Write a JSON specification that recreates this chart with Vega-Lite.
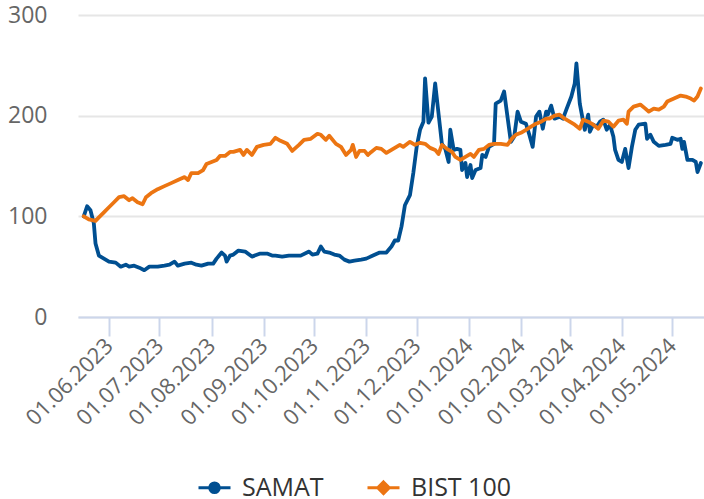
{
"$schema": "https://vega.github.io/schema/vega-lite/v6.json",
"width": 626,
"height": 302,
"autosize": {"type": "none"},
"padding": {"left": 78, "top": 15, "right": 0, "bottom": 182},
"background": "white",
"config": {"view": {"stroke": null}, "font": "Open Sans"},
"data": {"values": [
{"d":"2023-05-17","s":"SAMAT","v":100},{"d":"2023-05-19","s":"SAMAT","v":110},{"d":"2023-05-21","s":"SAMAT","v":106},{"d":"2023-05-23","s":"SAMAT","v":93},{"d":"2023-05-24","s":"SAMAT","v":73},{"d":"2023-05-26","s":"SAMAT","v":61},{"d":"2023-05-29","s":"SAMAT","v":58},{"d":"2023-06-01","s":"SAMAT","v":55},{"d":"2023-06-05","s":"SAMAT","v":54},{"d":"2023-06-08","s":"SAMAT","v":50},{"d":"2023-06-11","s":"SAMAT","v":52},{"d":"2023-06-13","s":"SAMAT","v":50},{"d":"2023-06-16","s":"SAMAT","v":51},{"d":"2023-06-19","s":"SAMAT","v":49},{"d":"2023-06-22","s":"SAMAT","v":46.5},{"d":"2023-06-25","s":"SAMAT","v":50},{"d":"2023-06-30","s":"SAMAT","v":50},{"d":"2023-07-04","s":"SAMAT","v":51},{"d":"2023-07-07","s":"SAMAT","v":52},{"d":"2023-07-10","s":"SAMAT","v":55},{"d":"2023-07-12","s":"SAMAT","v":51},{"d":"2023-07-16","s":"SAMAT","v":53},{"d":"2023-07-20","s":"SAMAT","v":54},{"d":"2023-07-23","s":"SAMAT","v":52},{"d":"2023-07-26","s":"SAMAT","v":51},{"d":"2023-07-30","s":"SAMAT","v":53},{"d":"2023-08-02","s":"SAMAT","v":53},{"d":"2023-08-04","s":"SAMAT","v":58},{"d":"2023-08-07","s":"SAMAT","v":64},{"d":"2023-08-09","s":"SAMAT","v":61},{"d":"2023-08-10","s":"SAMAT","v":55},{"d":"2023-08-12","s":"SAMAT","v":61},{"d":"2023-08-14","s":"SAMAT","v":62},{"d":"2023-08-17","s":"SAMAT","v":66},{"d":"2023-08-21","s":"SAMAT","v":65},{"d":"2023-08-25","s":"SAMAT","v":60},{"d":"2023-08-30","s":"SAMAT","v":63},{"d":"2023-09-03","s":"SAMAT","v":63},{"d":"2023-09-06","s":"SAMAT","v":61},{"d":"2023-09-08","s":"SAMAT","v":61},{"d":"2023-09-12","s":"SAMAT","v":60},{"d":"2023-09-16","s":"SAMAT","v":61},{"d":"2023-09-23","s":"SAMAT","v":61},{"d":"2023-09-28","s":"SAMAT","v":65},{"d":"2023-09-30","s":"SAMAT","v":62},{"d":"2023-10-03","s":"SAMAT","v":63},{"d":"2023-10-05","s":"SAMAT","v":70},{"d":"2023-10-07","s":"SAMAT","v":65},{"d":"2023-10-10","s":"SAMAT","v":64},{"d":"2023-10-13","s":"SAMAT","v":62},{"d":"2023-10-16","s":"SAMAT","v":61},{"d":"2023-10-19","s":"SAMAT","v":57},{"d":"2023-10-22","s":"SAMAT","v":55},{"d":"2023-10-25","s":"SAMAT","v":56},{"d":"2023-10-29","s":"SAMAT","v":57},{"d":"2023-11-01","s":"SAMAT","v":58},{"d":"2023-11-05","s":"SAMAT","v":61},{"d":"2023-11-09","s":"SAMAT","v":64},{"d":"2023-11-13","s":"SAMAT","v":64},{"d":"2023-11-16","s":"SAMAT","v":70},{"d":"2023-11-18","s":"SAMAT","v":76},{"d":"2023-11-20","s":"SAMAT","v":76},{"d":"2023-11-22","s":"SAMAT","v":90},{"d":"2023-11-24","s":"SAMAT","v":111},{"d":"2023-11-27","s":"SAMAT","v":121},{"d":"2023-11-29","s":"SAMAT","v":143},{"d":"2023-12-01","s":"SAMAT","v":169},{"d":"2023-12-03","s":"SAMAT","v":186},{"d":"2023-12-05","s":"SAMAT","v":194},{"d":"2023-12-06","s":"SAMAT","v":237},{"d":"2023-12-08","s":"SAMAT","v":193},{"d":"2023-12-10","s":"SAMAT","v":199},{"d":"2023-12-12","s":"SAMAT","v":232},{"d":"2023-12-14","s":"SAMAT","v":202},{"d":"2023-12-16","s":"SAMAT","v":172},{"d":"2023-12-18","s":"SAMAT","v":167},{"d":"2023-12-20","s":"SAMAT","v":154},{"d":"2023-12-21","s":"SAMAT","v":186},{"d":"2023-12-23","s":"SAMAT","v":166},{"d":"2023-12-25","s":"SAMAT","v":167},{"d":"2023-12-27","s":"SAMAT","v":166},{"d":"2023-12-28","s":"SAMAT","v":146},{"d":"2023-12-30","s":"SAMAT","v":153},{"d":"2023-12-31","s":"SAMAT","v":139},{"d":"2024-01-02","s":"SAMAT","v":151},{"d":"2024-01-03","s":"SAMAT","v":138},{"d":"2024-01-05","s":"SAMAT","v":146},{"d":"2024-01-08","s":"SAMAT","v":148},{"d":"2024-01-09","s":"SAMAT","v":161},{"d":"2024-01-11","s":"SAMAT","v":159},{"d":"2024-01-13","s":"SAMAT","v":169},{"d":"2024-01-16","s":"SAMAT","v":172},{"d":"2024-01-17","s":"SAMAT","v":212},{"d":"2024-01-20","s":"SAMAT","v":215},{"d":"2024-01-22","s":"SAMAT","v":224},{"d":"2024-01-24","s":"SAMAT","v":199},{"d":"2024-01-26","s":"SAMAT","v":174},{"d":"2024-01-28","s":"SAMAT","v":179},{"d":"2024-01-30","s":"SAMAT","v":204},{"d":"2024-02-01","s":"SAMAT","v":194},{"d":"2024-02-04","s":"SAMAT","v":192},{"d":"2024-02-06","s":"SAMAT","v":181},{"d":"2024-02-08","s":"SAMAT","v":169},{"d":"2024-02-10","s":"SAMAT","v":199},{"d":"2024-02-12","s":"SAMAT","v":204},{"d":"2024-02-14","s":"SAMAT","v":187},{"d":"2024-02-16","s":"SAMAT","v":204},{"d":"2024-02-17","s":"SAMAT","v":201},{"d":"2024-02-19","s":"SAMAT","v":210},{"d":"2024-02-21","s":"SAMAT","v":197},{"d":"2024-02-24","s":"SAMAT","v":199},{"d":"2024-02-26","s":"SAMAT","v":197},{"d":"2024-02-28","s":"SAMAT","v":206},{"d":"2024-03-02","s":"SAMAT","v":219},{"d":"2024-03-04","s":"SAMAT","v":232},{"d":"2024-03-05","s":"SAMAT","v":252},{"d":"2024-03-07","s":"SAMAT","v":212},{"d":"2024-03-09","s":"SAMAT","v":194},{"d":"2024-03-10","s":"SAMAT","v":186},{"d":"2024-03-12","s":"SAMAT","v":201},{"d":"2024-03-13","s":"SAMAT","v":184},{"d":"2024-03-15","s":"SAMAT","v":191},{"d":"2024-03-17","s":"SAMAT","v":189},{"d":"2024-03-19","s":"SAMAT","v":194},{"d":"2024-03-21","s":"SAMAT","v":196},{"d":"2024-03-23","s":"SAMAT","v":186},{"d":"2024-03-25","s":"SAMAT","v":191},{"d":"2024-03-27","s":"SAMAT","v":179},{"d":"2024-03-28","s":"SAMAT","v":166},{"d":"2024-03-30","s":"SAMAT","v":156},{"d":"2024-04-01","s":"SAMAT","v":154},{"d":"2024-04-03","s":"SAMAT","v":167},{"d":"2024-04-05","s":"SAMAT","v":148},{"d":"2024-04-07","s":"SAMAT","v":169},{"d":"2024-04-09","s":"SAMAT","v":186},{"d":"2024-04-11","s":"SAMAT","v":191},{"d":"2024-04-15","s":"SAMAT","v":192},{"d":"2024-04-16","s":"SAMAT","v":177},{"d":"2024-04-18","s":"SAMAT","v":181},{"d":"2024-04-20","s":"SAMAT","v":174},{"d":"2024-04-23","s":"SAMAT","v":170},{"d":"2024-04-27","s":"SAMAT","v":171},{"d":"2024-04-30","s":"SAMAT","v":172},{"d":"2024-05-01","s":"SAMAT","v":178},{"d":"2024-05-04","s":"SAMAT","v":176},{"d":"2024-05-06","s":"SAMAT","v":177},{"d":"2024-05-07","s":"SAMAT","v":167},{"d":"2024-05-08","s":"SAMAT","v":174},{"d":"2024-05-10","s":"SAMAT","v":156},{"d":"2024-05-13","s":"SAMAT","v":156},{"d":"2024-05-15","s":"SAMAT","v":154},{"d":"2024-05-16","s":"SAMAT","v":144},{"d":"2024-05-18","s":"SAMAT","v":153},
{"d":"2023-05-17","s":"BIST 100","v":100},{"d":"2023-05-20","s":"BIST 100","v":97},{"d":"2023-05-24","s":"BIST 100","v":95.5},{"d":"2023-05-26","s":"BIST 100","v":99},{"d":"2023-05-29","s":"BIST 100","v":104},{"d":"2023-06-01","s":"BIST 100","v":109},{"d":"2023-06-04","s":"BIST 100","v":114},{"d":"2023-06-07","s":"BIST 100","v":119},{"d":"2023-06-10","s":"BIST 100","v":120},{"d":"2023-06-13","s":"BIST 100","v":116},{"d":"2023-06-15","s":"BIST 100","v":118},{"d":"2023-06-18","s":"BIST 100","v":114},{"d":"2023-06-21","s":"BIST 100","v":112},{"d":"2023-06-23","s":"BIST 100","v":119},{"d":"2023-06-26","s":"BIST 100","v":123},{"d":"2023-06-30","s":"BIST 100","v":127},{"d":"2023-07-04","s":"BIST 100","v":130},{"d":"2023-07-08","s":"BIST 100","v":133},{"d":"2023-07-12","s":"BIST 100","v":136},{"d":"2023-07-16","s":"BIST 100","v":139},{"d":"2023-07-18","s":"BIST 100","v":136},{"d":"2023-07-20","s":"BIST 100","v":143},{"d":"2023-07-24","s":"BIST 100","v":143},{"d":"2023-07-27","s":"BIST 100","v":146},{"d":"2023-07-29","s":"BIST 100","v":152},{"d":"2023-08-01","s":"BIST 100","v":154},{"d":"2023-08-04","s":"BIST 100","v":156},{"d":"2023-08-06","s":"BIST 100","v":160},{"d":"2023-08-09","s":"BIST 100","v":160},{"d":"2023-08-12","s":"BIST 100","v":164},{"d":"2023-08-14","s":"BIST 100","v":164},{"d":"2023-08-18","s":"BIST 100","v":166},{"d":"2023-08-20","s":"BIST 100","v":161},{"d":"2023-08-22","s":"BIST 100","v":166},{"d":"2023-08-25","s":"BIST 100","v":161},{"d":"2023-08-28","s":"BIST 100","v":169},{"d":"2023-09-01","s":"BIST 100","v":171},{"d":"2023-09-05","s":"BIST 100","v":172},{"d":"2023-09-08","s":"BIST 100","v":178},{"d":"2023-09-11","s":"BIST 100","v":175},{"d":"2023-09-15","s":"BIST 100","v":172},{"d":"2023-09-18","s":"BIST 100","v":165},{"d":"2023-09-22","s":"BIST 100","v":171},{"d":"2023-09-25","s":"BIST 100","v":176},{"d":"2023-09-29","s":"BIST 100","v":177},{"d":"2023-10-03","s":"BIST 100","v":182},{"d":"2023-10-05","s":"BIST 100","v":181},{"d":"2023-10-08","s":"BIST 100","v":176},{"d":"2023-10-10","s":"BIST 100","v":180},{"d":"2023-10-14","s":"BIST 100","v":172},{"d":"2023-10-17","s":"BIST 100","v":169},{"d":"2023-10-20","s":"BIST 100","v":161},{"d":"2023-10-23","s":"BIST 100","v":166},{"d":"2023-10-24","s":"BIST 100","v":171},{"d":"2023-10-26","s":"BIST 100","v":159},{"d":"2023-10-28","s":"BIST 100","v":165},{"d":"2023-10-31","s":"BIST 100","v":165},{"d":"2023-11-02","s":"BIST 100","v":161},{"d":"2023-11-04","s":"BIST 100","v":164},{"d":"2023-11-07","s":"BIST 100","v":168},{"d":"2023-11-10","s":"BIST 100","v":167},{"d":"2023-11-13","s":"BIST 100","v":163},{"d":"2023-11-16","s":"BIST 100","v":166},{"d":"2023-11-19","s":"BIST 100","v":169},{"d":"2023-11-21","s":"BIST 100","v":171},{"d":"2023-11-23","s":"BIST 100","v":169},{"d":"2023-11-27","s":"BIST 100","v":174},{"d":"2023-11-30","s":"BIST 100","v":171},{"d":"2023-12-03","s":"BIST 100","v":173},{"d":"2023-12-06","s":"BIST 100","v":172},{"d":"2023-12-09","s":"BIST 100","v":168},{"d":"2023-12-12","s":"BIST 100","v":166},{"d":"2023-12-14","s":"BIST 100","v":162},{"d":"2023-12-16","s":"BIST 100","v":171},{"d":"2023-12-19","s":"BIST 100","v":167},{"d":"2023-12-22","s":"BIST 100","v":164},{"d":"2023-12-24","s":"BIST 100","v":159},{"d":"2023-12-27","s":"BIST 100","v":156},{"d":"2023-12-30","s":"BIST 100","v":159},{"d":"2024-01-02","s":"BIST 100","v":162},{"d":"2024-01-04","s":"BIST 100","v":159},{"d":"2024-01-07","s":"BIST 100","v":166},{"d":"2024-01-10","s":"BIST 100","v":167},{"d":"2024-01-13","s":"BIST 100","v":171},{"d":"2024-01-16","s":"BIST 100","v":172},{"d":"2024-01-20","s":"BIST 100","v":172},{"d":"2024-01-24","s":"BIST 100","v":171},{"d":"2024-01-27","s":"BIST 100","v":178},{"d":"2024-01-29","s":"BIST 100","v":181},{"d":"2024-02-01","s":"BIST 100","v":183},{"d":"2024-02-04","s":"BIST 100","v":186},{"d":"2024-02-07","s":"BIST 100","v":189},{"d":"2024-02-10","s":"BIST 100","v":192},{"d":"2024-02-13","s":"BIST 100","v":194},{"d":"2024-02-16","s":"BIST 100","v":197},{"d":"2024-02-18","s":"BIST 100","v":197},{"d":"2024-02-21","s":"BIST 100","v":200},{"d":"2024-02-24","s":"BIST 100","v":201},{"d":"2024-02-27","s":"BIST 100","v":197},{"d":"2024-03-01","s":"BIST 100","v":194},{"d":"2024-03-04","s":"BIST 100","v":191},{"d":"2024-03-07","s":"BIST 100","v":187},{"d":"2024-03-09","s":"BIST 100","v":196},{"d":"2024-03-12","s":"BIST 100","v":194},{"d":"2024-03-15","s":"BIST 100","v":191},{"d":"2024-03-18","s":"BIST 100","v":187},{"d":"2024-03-21","s":"BIST 100","v":195},{"d":"2024-03-24","s":"BIST 100","v":194},{"d":"2024-03-27","s":"BIST 100","v":189},{"d":"2024-03-30","s":"BIST 100","v":195},{"d":"2024-04-02","s":"BIST 100","v":196},{"d":"2024-04-04","s":"BIST 100","v":192},{"d":"2024-04-05","s":"BIST 100","v":204},{"d":"2024-04-08","s":"BIST 100","v":209},{"d":"2024-04-12","s":"BIST 100","v":211},{"d":"2024-04-15","s":"BIST 100","v":207},{"d":"2024-04-17","s":"BIST 100","v":204},{"d":"2024-04-20","s":"BIST 100","v":207},{"d":"2024-04-23","s":"BIST 100","v":206},{"d":"2024-04-26","s":"BIST 100","v":209},{"d":"2024-04-28","s":"BIST 100","v":214},{"d":"2024-05-02","s":"BIST 100","v":217},{"d":"2024-05-06","s":"BIST 100","v":220},{"d":"2024-05-09","s":"BIST 100","v":219},{"d":"2024-05-12","s":"BIST 100","v":217},{"d":"2024-05-14","s":"BIST 100","v":215},{"d":"2024-05-16","s":"BIST 100","v":219},{"d":"2024-05-18","s":"BIST 100","v":227}
]},
"mark": {"type": "line", "strokeWidth": 3.8, "strokeJoin": "round", "strokeCap": "round"},
"encoding": {
  "x": {"field": "d", "type": "temporal",
    "scale": {"type": "utc", "domain": [{"year": 2023, "month": 5, "date": 13, "hours": 14, "utc": true}, {"year": 2024, "month": 5, "date": 19, "hours": 21, "utc": true}]},
    "axis": {"title": null, "grid": false, "zindex": 1,
      "values": [{"year":2023,"month":6,"date":1,"utc":true},{"year":2023,"month":7,"date":1,"utc":true},{"year":2023,"month":8,"date":1,"utc":true},{"year":2023,"month":9,"date":1,"utc":true},{"year":2023,"month":10,"date":1,"utc":true},{"year":2023,"month":11,"date":1,"utc":true},{"year":2023,"month":12,"date":1,"utc":true},{"year":2024,"month":1,"date":1,"utc":true},{"year":2024,"month":2,"date":1,"utc":true},{"year":2024,"month":3,"date":1,"utc":true},{"year":2024,"month":4,"date":1,"utc":true},{"year":2024,"month":5,"date":1,"utc":true}],
      "labelExpr": "utcFormat(datum.value, '%d.%m.%Y')",
      "labelAngle": -45, "labelAlign": "right", "labelBaseline": "middle",
      "labelFontSize": 22, "labelColor": "#666666", "labelPadding": 6,
      "labelOverlap": false, "labelFlush": false, "labelBound": false,
      "tickSize": 19, "tickColor": "#ccd6eb", "tickWidth": 2,
      "domainColor": "#ccd6eb", "domainWidth": 2}},
  "y": {"field": "v", "type": "quantitative",
    "scale": {"domain": [0, 300], "nice": false, "zero": true},
    "axis": {"title": null, "values": [0, 100, 200, 300], "domain": false, "ticks": false,
      "labelFontSize": 23, "labelColor": "#666666", "labelPadding": 31,
      "gridColor": "#e6e6e6", "gridWidth": 2, "zindex": 0}},
  "color": {"field": "s", "type": "nominal",
    "scale": {"domain": ["SAMAT", "BIST 100"], "range": ["#004f91", "#ec7512"]},
    "legend": {"title": null, "orient": "none", "direction": "horizontal", "legendX": 119, "legendY": 455,
      "labelFontSize": 25, "labelColor": "#333333", "labelOffset": 10, "columnPadding": 37,
      "symbolSize": 1024, "symbolStrokeWidth": 3,
      "encode": {"symbols": {"update": {
        "shape": {"signal": "datum.value === 'SAMAT' ? 'M-1,0H1M-0.3,0A0.3,0.3,0,1,0,0.3,0A0.3,0.3,0,1,0,-0.3,0Z' : 'M-1,0H1M0,-0.36L0.36,0L0,0.36L-0.36,0Z'"},
        "fill": {"signal": "scale('color', datum.value)"},
        "stroke": {"signal": "scale('color', datum.value)"},
        "strokeWidth": {"value": 3},
        "opacity": {"value": 1}}}}}}
}
}
